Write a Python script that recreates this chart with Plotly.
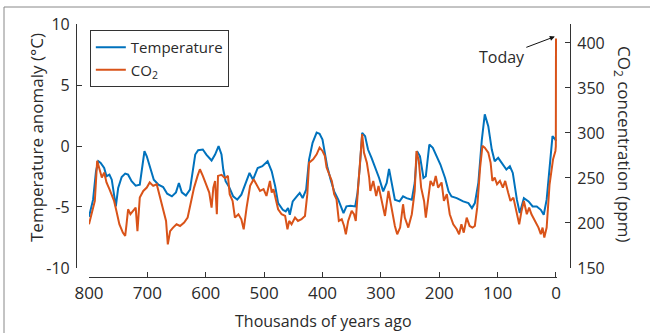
import plotly.graph_objects as go

# ---- data ----
temp_kyr = [800, 793, 788, 784, 780, 774, 770, 765, 761, 757, 754, 750, 744, 738, 733, 727, 720, 713,
            708, 705, 701, 696, 689, 681, 673, 666, 658, 651, 646, 641, 634, 627, 622, 618, 613, 605,
            599, 590, 584, 578, 573, 570, 566, 560, 553, 546, 539, 531, 525, 519, 511, 503, 494, 487,
            481, 476, 468, 463, 459, 456, 451, 444, 439, 434, 428, 423, 417, 410, 405,
            400, 396, 392, 386, 380, 373, 369, 364, 359, 352, 344, 340, 336, 332, 327, 322, 316, 310,
            303, 296, 290, 286, 282, 276, 268, 262, 256, 247, 242, 238, 233, 227, 223, 217, 211, 204,
            198, 190, 184, 179, 170, 159, 150, 144, 139, 133, 127, 122, 116, 110, 105, 99, 91, 85, 79,
            74, 67, 62, 55, 47, 40, 33, 26, 21, 16, 10, 6, 1, 0]
temp_val = [-5.8, -4.4, -2.07, -1.25, -1.39, -1.8, -2.48, -2.35, -2.76, -3.85, -4.95, -3.44, -2.54,
            -2.26, -2.35, -2.89, -3.25, -3.17, -1.66, -0.43, -0.84, -1.66, -2.76, -3.17, -3.36, -3.91,
            -4.13, -3.8, -3.03, -3.8, -4.07, -3.58, -2.07, -0.7, -0.34, -0.29, -0.7, -1.19, -0.7,
            -0.01, -0.7, -1.93, -2.89, -3.36, -4.13, -4.4, -3.99, -2.89, -2.21, -2.76, -1.8, -1.66,
            -1.25, -2.07, -3.31, -4.68, -5.23, -5.36, -5.09, -5.64, -4.54, -4.13, -3.85, -4.27, -3.58,
            -1.11, 0.26, 1.1, 1.0,
            0.53, -0.56, -1.66, -2.76, -3.72, -4.4, -4.95, -5.5, -4.95, -4.9, -4.95, -3.85, -1.66,
            1.08, 0.81, -0.29, -0.97, -1.66, -2.62, -3.72, -3.03, -1.88, -3.03, -4.4, -4.54, -4.13,
            -4.27, -4.4, -3.03, -0.43, -0.84, -2.62, -2.48, 0.12, -0.15, -0.84, -1.52, -2.62, -3.72,
            -4.13, -4.27, -4.54, -4.68, -5.09, -4.68, -3.03, 0.53, 2.59, 1.63, -0.29, -1.25, -0.97,
            -1.52, -1.93, -1.66, -2.21, -4.4, -5.5, -4.27, -4.54, -4.95, -4.95, -5.23, -5.64, -4.4,
            -0.97, 0.81, 0.53, 0.4]

co2_kyr = [800, 793, 790, 786, 782, 778, 774, 770, 765, 761, 757, 753, 748, 742, 738, 736, 733, 729,
           724, 720, 717, 713, 707, 701, 696, 690, 684, 678, 673, 668, 665, 661, 656, 650, 644, 637,
           631, 626, 620, 614, 610, 605, 600, 594, 590, 587, 584, 581, 579, 573, 567, 562, 559, 554,
           550, 544, 539, 535, 530, 524, 518, 513, 507, 501, 496, 490, 487, 484, 480, 476, 470, 464,
           460, 457, 453, 447, 442, 436, 430, 426, 423, 416, 410, 405,
           400, 396, 393, 388, 384, 380, 376, 372, 367, 363, 360, 356, 350, 346, 343, 339, 335, 332,
           329, 324, 320, 318, 313, 308, 304, 299, 293, 287, 282, 276, 272, 267, 262, 259, 253, 247,
           242, 239, 235, 231, 226, 223, 219, 215, 210, 206, 202, 196, 192, 187, 182, 176, 170, 166,
           162, 158, 153, 148, 143, 139, 135, 130, 126, 122, 116, 112, 109, 105, 101, 96, 91, 87, 82,
           78, 73, 67, 63, 59, 55, 50, 46, 42, 36, 30, 26, 23, 20, 16, 11, 7, 5, 1, 0.3, 0]
co2_val = [198.6, 217, 224.5, 269, 258, 250.4, 256, 245, 237.5, 230, 224.5, 213.4, 198.6, 189.3,
           185.6, 196.7, 215.2, 209.7, 213.4, 217, 191, 228.2, 235.6, 239.3, 245, 241.2, 243, 228.2,
           217, 202.3, 176.3, 191, 194.9, 198.6, 196.7, 200.4, 206, 220.8, 239.3, 252.3, 259.7,
           252.3, 243, 233.8, 217, 239.3, 246.7, 209.7, 252.3, 253.4, 249.7, 252.3, 232, 224.5, 206,
           209.7, 204.1, 193, 217, 241.2, 248.6, 243, 235.6, 237.5, 230, 246.7, 233.8, 237.5, 226.3,
           215.2, 209.7, 207.8, 193, 202.3, 198.6, 206, 202.3, 204.1, 207.8, 232, 267, 270.8, 276.3,
           283.7,
           280, 274.5, 261.5, 252.3, 246.7, 231.9, 226.3, 202.3, 204.1, 196.7, 187.5, 202.3, 213.4,
           209.7, 202.3, 239.3, 280, 298.6, 278.2, 267, 250.4, 235.6, 246.7, 230, 241.2, 224.5,
           207.8, 235.6, 217, 196.7, 187.5, 194.9, 220.8, 206, 194.9, 209.7, 235.6, 280, 268.9,
           239.3, 224.5, 206, 226.3, 246.7, 241.2, 252.3, 239.3, 245, 224.5, 231.9, 209.7, 198.6,
           193, 187.5, 198.6, 189.3, 206, 196.7, 194.9, 196.7, 217, 261.5, 285.6, 283.7, 278.2, 267,
           246.7, 250.4, 243, 246.7, 239.3, 246.7, 233.8, 224.5, 228.2, 209.7, 198.6, 213.4, 224.5,
           209.7, 217, 209.7, 202.3, 194.9, 187.5, 194.9, 183.8, 194.9, 243, 261.5, 270.8, 280,
           285, 405]

x_ticks = [800, 700, 600, 500, 400, 300, 200, 100, 0]
t_ticks = [-10, -5, 0, 5, 10]
t_tick_labels = ["-10", "-5", "0", "5", "10"]
c_ticks = [150, 200, 250, 300, 350, 400]

BLUE = "#0072BD"
ORANGE = "#D95319"
AX = "#333333"
TXT = "#2a2a2a"
FONT = "Open Sans"

fig = go.Figure()
fig.add_trace(go.Scatter(x=temp_kyr, y=temp_val, mode="lines", name="Temperature",
                         line=dict(color=BLUE, width=2), yaxis="y"))
fig.add_trace(go.Scatter(x=co2_kyr, y=co2_val, mode="lines", name="CO<sub>2</sub>",
                         line=dict(color=ORANGE, width=2), yaxis="y2"))

common = dict(showline=True, linecolor=AX, linewidth=1.2, ticks="inside", ticklen=5,
              tickcolor=AX, tickwidth=1.2, showgrid=False, zeroline=False, automargin=False)

fig.update_layout(
    template="none",
    width=650, height=333,
    margin=dict(l=76, r=80, t=24, b=56, pad=0),
    paper_bgcolor="white", plot_bgcolor="white",
    font=dict(family=FONT, size=16, color=TXT),
    xaxis=dict(domain=[0.0263, 0.9746], range=[800, -2.5], anchor="free", position=0,
               tickvals=x_ticks, tickfont=dict(size=17), ticklabelstandoff=0, **common),
    yaxis=dict(domain=[0.0356, 1], range=[-10, 10], anchor="free", position=0,
               tickvals=t_ticks, ticktext=t_tick_labels, tickfont=dict(size=16),
               ticklabelstandoff=3, **common),
    yaxis2=dict(overlaying="y", side="right", range=[150, 421], anchor="free", position=1,
                tickvals=c_ticks, tickfont=dict(size=16), ticklabelstandoff=3, **common),
    legend=dict(x=0.028, y=0.976, xanchor="left", yanchor="top", bordercolor=AX,
                borderwidth=1, bgcolor="white", font=dict(size=15), tracegroupgap=0,
                itemwidth=30),
    showlegend=True,
)

fig.add_annotation(text="Temperature anomaly (°C)", xref="paper", yref="paper",
                   x=(36 - 76) / 494, y=(277 - 138) / 253, xanchor="center", yanchor="middle",
                   textangle=-90, showarrow=False, font=dict(size=17))
fig.add_annotation(text="CO<sub>2</sub> concentration (ppm)", xref="paper", yref="paper",
                   x=(624 - 76) / 494, y=(277 - 144) / 253, xanchor="center", yanchor="middle",
                   textangle=90, showarrow=False, font=dict(size=17))
fig.add_annotation(text="Thousands of years ago", xref="paper", yref="paper",
                   x=(323 - 76) / 494, y=(277 - 321) / 253, xanchor="center", yanchor="middle",
                   showarrow=False, font=dict(size=16))
fig.add_annotation(text="Today", xref="x", yref="y2", x=2, y=407, ax=-53, ay=20,
                   showarrow=True, arrowhead=2, arrowsize=1, arrowwidth=1, arrowcolor="#111",
                   font=dict(size=16, color=TXT))

# outer frame (left and top edges)
fig.add_shape(type="line", xref="paper", yref="paper", x0=(4 - 76) / 494, x1=(4 - 76) / 494,
              y0=(277 - 340) / 253, y1=(277 - 7) / 253, line=dict(color="#888", width=1))
fig.add_shape(type="line", xref="paper", yref="paper", x0=(4 - 76) / 494, x1=(660 - 76) / 494,
              y0=(277 - 7) / 253, y1=(277 - 7) / 253, line=dict(color="#888", width=1))

fig.write_html("out.html", config={"displayModeBar": False},
               post_script="document.body.style.margin='0';")
